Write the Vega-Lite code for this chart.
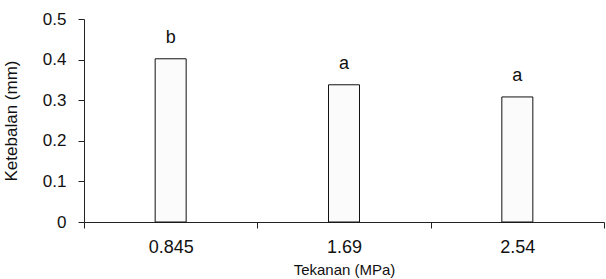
{
  "$schema": "https://vega.github.io/schema/vega-lite/v6.json",
  "width": 520,
  "height": 203,
  "autosize": "none",
  "padding": {"left": 84, "top": 19, "right": 2, "bottom": 57},
  "background": "white",
  "config": {
    "font": "Liberation Sans",
    "view": {"stroke": null},
    "axis": {"grid": false, "domainColor": "#222", "tickColor": "#222", "labelColor": "#111", "titleColor": "#111", "labelFont": "Liberation Sans", "titleFont": "Liberation Sans", "titleFontWeight": "normal"}
  },
  "data": {
    "values": [
      {"tekanan": "0.845", "ketebalan": 0.402, "label": "b"},
      {"tekanan": "1.69", "ketebalan": 0.338, "label": "a"},
      {"tekanan": "2.54", "ketebalan": 0.308, "label": "a"}
    ]
  },
  "encoding": {
    "x": {
      "field": "tekanan", "type": "nominal", "sort": null,
      "scale": {"paddingInner": 0, "paddingOuter": 0},
      "axis": {"title": "Tekanan (MPa)", "labelAngle": 0, "tickBand": "extent", "tickSize": 6, "labelPadding": 10, "labelFontSize": 18, "titleFontSize": 15, "titlePadding": 6}
    },
    "y": {
      "field": "ketebalan", "type": "quantitative",
      "scale": {"domain": [0, 0.5], "nice": false},
      "axis": {"title": "Ketebalan (mm)", "values": [0, 0.1, 0.2, 0.3, 0.4, 0.5], "format": ".1~f", "tickSize": 6, "labelPadding": 12, "labelFontSize": 17, "titleFontSize": 17, "titlePadding": 22}
    }
  },
  "layer": [
    {"mark": {"type": "bar", "size": 31, "fill": "#fbfbfb", "stroke": "#111", "strokeWidth": 1}},
    {"mark": {"type": "text", "baseline": "alphabetic", "dy": -16, "fontSize": 18, "color": "#111"}, "encoding": {"text": {"field": "label"}}}
  ]
}
